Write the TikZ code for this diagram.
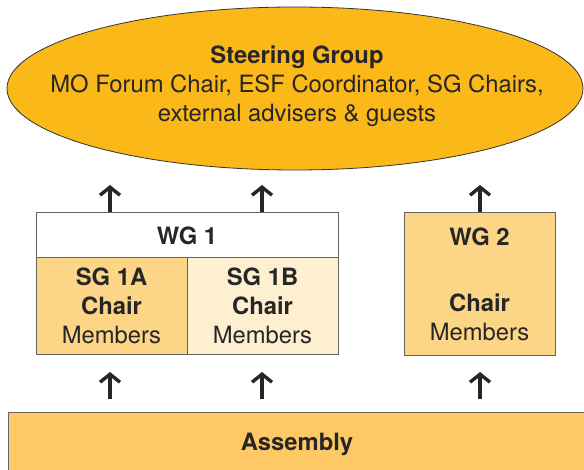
\documentclass[tikz,border=0pt]{standalone}
\usepackage{fontspec}
\setmainfont{TeX Gyre Heros}
\usetikzlibrary{shapes.geometric,arrows.meta}
\definecolor{sgorange}{RGB}{251,184,25}
\definecolor{midorange}{RGB}{253,213,135}
\definecolor{lightorange}{RGB}{254,239,208}
\definecolor{asmorange}{RGB}{254,201,100}
\definecolor{edgegray}{RGB}{100,100,100}
\tikzset{
  box/.style={draw=edgegray, line width=0.9pt, rectangle, inner sep=0pt, anchor=center},
  txt/.style={align=center, inner sep=0pt, font=\fontsize{23.8}{29}\selectfont, text=black!85},
  uparrow/.style={line width=3.6pt, black!85, -{Straight Barb[length=8pt,width=20pt,line width=3.4pt]}}
}
\begin{document}
\begin{tikzpicture}[x=1pt,y=-1pt]
\useasboundingbox (0,0) rectangle (584,470);
% steering group
\node[ellipse, draw=black!80, line width=0.8pt, fill=sgorange, minimum width=576pt, minimum height=163pt, inner sep=0pt] (sg) at (295,88.5) {};
\node[txt] (sgtext) at (297,86.5) {\textbf{Steering Group}\\MO Forum Chair, ESF Coordinator, SG Chairs,\\external advisers \& guests};
% WG1
\node[box, fill=white, minimum width=302pt, minimum height=45pt] (wg1) at (187,234.5) {};
\node[txt] (wg1t) at (187,236) {\textbf{WG 1}};
\node[box, fill=midorange, minimum width=151pt, minimum height=97pt] (sg1a) at (111.5,305.5) {};
\node[box, fill=lightorange, minimum width=151pt, minimum height=97pt] (sg1b) at (262.5,305.5) {};
\node[txt] (sg1at) at (111.5,306) {\textbf{SG 1A}\\\textbf{Chair}\\Members};
\node[txt] (sg1bt) at (262.5,306) {\textbf{SG 1B}\\\textbf{Chair}\\Members};
% WG2
\node[box, fill=midorange, minimum width=151pt, minimum height=143pt] (wg2) at (479.5,283.5) {};
\node[txt] (wg2t) at (479.5,237) {\textbf{WG 2}};
\node[txt] (wg2m) at (479.5,317.5) {\textbf{Chair}\\Members};
% Assembly
\node[box, fill=asmorange, minimum width=600pt, minimum height=80pt] (asm) at (308,452) {};
\node[txt] (asmt) at (297,444.5) {\textbf{Assembly}};
% arrow coordinates
\coordinate (t1) at (110,185);
\coordinate (t2) at (262,185);
\coordinate (t3) at (480,185);
\coordinate (b1s) at (110,399);
\coordinate (b2s) at (262,399);
\coordinate (b3s) at (480,399);
\coordinate (b1) at (110,372);
\coordinate (b2) at (262,372);
\coordinate (b3) at (480,372);
\draw[uparrow] (wg1.north -| t1) -- (t1);
\draw[uparrow] (wg1.north -| t2) -- (t2);
\draw[uparrow] (wg2.north -| t3) -- (t3);
\draw[uparrow] (b1s) -- (b1);
\draw[uparrow] (b2s) -- (b2);
\draw[uparrow] (b3s) -- (b3);
\end{tikzpicture}
\end{document}
